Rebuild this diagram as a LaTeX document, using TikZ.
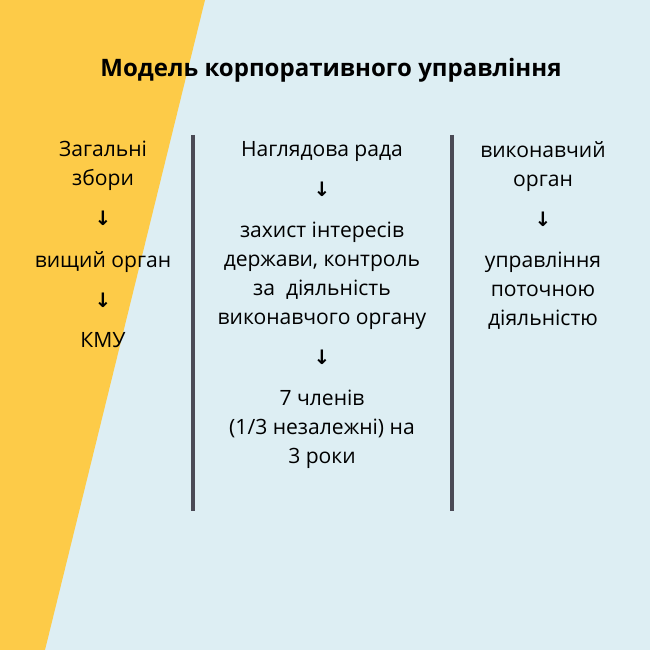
\documentclass[tikz,border=0pt]{standalone}
\usepackage{fontspec}
\setmainfont{Open Sans}
\newfontfamily\arrowfont{DejaVu Sans}
\usetikzlibrary{positioning}
\definecolor{bgblue}{HTML}{DDEEF3}
\definecolor{sunny}{HTML}{FDCB48}
\definecolor{barcol}{HTML}{4A4A55}
\tikzset{
  txt/.style={align=center,font=\fontsize{18}{24.8}\selectfont,inner sep=0pt},
  arr/.style={font=\arrowfont\fontsize{17}{17}\selectfont\bfseries,inner sep=0pt},
  bar/.style={barcol,line width=2.6pt}
}
\begin{document}
\begin{tikzpicture}[x=0.03cm,y=-0.03cm]
  \fill[bgblue] (0,0) rectangle (650,650);
  \fill[sunny] (0,0) -- (205,0) -- (45,650) -- (0,650) -- cycle;
  \useasboundingbox (0,0) rectangle (650,650);

  \node[txt,font=\fontsize{20.5}{24}\selectfont\bfseries] (title) at (331,70) {Модель корпоративного управління};

  % left column
  \node[txt,anchor=north] (Zbory) at (103,141) {Загальні\\збори};
  \node[arr,below=6mm of Zbory] (a1) {↓};
  \node[txt,below=7.5mm of a1] (Vyshchyi) {вищий орган};
  \node[arr,below=6mm of Vyshchyi] (a2) {↓};
  \node[txt,below=7.5mm of a2] (KMU) {КМУ};

  % middle column
  \node[txt,anchor=north] (Rada) at (322,141) {Наглядова рада};
  \node[arr,below=6mm of Rada] (a3) {↓};
  \node[txt,below=7.5mm of a3] (Zakhyst) {захист інтересів\\держави, контроль\\за \ діяльність\\виконавчого органу};
  \node[arr,below=6mm of Zakhyst] (a4) {↓};
  \node[txt,below=7.5mm of a4] (Chleny) {7 членів\\(1/3 незалежні) на\\3 роки};

  % right column
  \node[txt,anchor=north] (Organ) at (543,141) {виконавчий\\орган};
  \node[arr,below=6mm of Organ] (a5) {↓};
  \node[txt,below=7.5mm of a5] (Upravl) {управління\\поточною\\діяльністю};

  % separators
  \draw[bar] (193,135) -- (193,511);
  \draw[bar] (452,135) -- (452,511);
\end{tikzpicture}
\end{document}
